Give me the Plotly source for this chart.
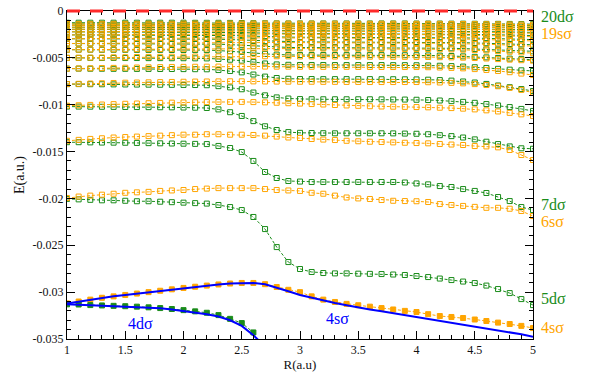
import plotly.graph_objects as go

# ---------------- data ----------------
R = [1.0, 1.1, 1.2, 1.3, 1.4, 1.5, 1.6, 1.7, 1.8, 1.9, 2.0, 2.1, 2.2, 2.3, 2.4, 2.5, 2.6, 2.7, 2.8, 2.9,
     3.0, 3.1, 3.2, 3.3, 3.4, 3.5, 3.6, 3.7, 3.8, 3.9, 4.0, 4.1, 4.2, 4.3, 4.4, 4.5, 4.6, 4.7, 4.8, 4.9, 5.0]

x_range = [1, 5]
y_range = [-0.035, 0]
x_tick_vals = [1, 1.5, 2, 2.5, 3, 3.5, 4, 4.5, 5]
x_tick_text = ["1", "1.5", "2", "2.5", "3", "3.5", "4", "4.5", "5"]
y_tick_vals = [0, -0.005, -0.01, -0.015, -0.02, -0.025, -0.03, -0.035]
y_tick_text = ["0", "-0.005", "-0.01", "-0.015", "-0.02", "-0.025", "-0.03", "-0.035"]

threshold_E = 0.0

# diabatic curves (blue)
blue_4s = [-0.03120,-0.03100,-0.03080,-0.03060,-0.03045,-0.03030,-0.03015,-0.03000,-0.02985,-0.02970,
           -0.02955,-0.02942,-0.02930,-0.02918,-0.02908,-0.02902,-0.02902,-0.02915,-0.02950,-0.02990,
           -0.03030,-0.03060,-0.03090,-0.03115,-0.03140,-0.03165,-0.03185,-0.03205,-0.03225,-0.03245,
           -0.03265,-0.03285,-0.03305,-0.03325,-0.03345,-0.03365,-0.03385,-0.03405,-0.03425,-0.03450,-0.03475]
blue_4d = [-0.03130,-0.03135,-0.03140,-0.03145,-0.03148,-0.03150,-0.03155,-0.03162,-0.03172,-0.03185,
           -0.03200,-0.03215,-0.03235,-0.03260,-0.03300,-0.03360,-0.03460,-0.03580]

# s sigma states (orange)
s_4 = [-0.03120,-0.03100,-0.03080,-0.03060,-0.03045,-0.03030,-0.03015,-0.03000,-0.02985,-0.02970,
       -0.02955,-0.02942,-0.02930,-0.02918,-0.02908,-0.02902,-0.02902,-0.02915,-0.02945,-0.02975,
       -0.03000,-0.03045,-0.03080,-0.03105,-0.03125,-0.03140,-0.03155,-0.03170,-0.03185,-0.03200,
       -0.03212,-0.03235,-0.03255,-0.03265,-0.03276,-0.03292,-0.03308,-0.03325,-0.03340,-0.03360,-0.03383]
s_6 = [-0.01996,-0.01980,-0.01970,-0.01960,-0.01950,-0.01940,-0.01935,-0.01930,-0.01920,-0.01915,
       -0.01910,-0.01900,-0.01895,-0.01890,-0.01890,-0.01890,-0.01890,-0.01900,-0.01910,-0.01915,
       -0.01920,-0.01940,-0.01950,-0.01970,-0.01990,-0.02000,-0.02006,-0.02017,-0.02025,-0.02028,
       -0.02030,-0.02038,-0.02060,-0.02070,-0.02080,-0.02090,-0.02100,-0.02100,-0.02110,-0.02134,-0.02188]
s_7 = [-0.01385,-0.01375,-0.01365,-0.01358,-0.01350,-0.01345,-0.01340,-0.01335,-0.01330,-0.01325,
       -0.01320,-0.01320,-0.01315,-0.01315,-0.01320,-0.01320,-0.01323,-0.01330,-0.01340,-0.01350,
       -0.01355,-0.01366,-0.01372,-0.01377,-0.01385,-0.01390,-0.01395,-0.01398,-0.01402,-0.01406,
       -0.01409,-0.01412,-0.01419,-0.01425,-0.01430,-0.01441,-0.01445,-0.01455,-0.01483,-0.01537,-0.01590]
s_8 = [-0.01010,-0.01006,-0.01002,-0.00998,-0.00994,-0.00990,-0.00987,-0.00984,-0.00981,-0.00978,
       -0.00976,-0.00974,-0.00972,-0.00970,-0.00970,-0.00970,-0.00972,-0.00975,-0.00979,-0.00984,
       -0.00988,-0.00993,-0.00998,-0.01003,-0.01008,-0.01012,-0.01016,-0.01019,-0.01021,-0.01023,
       -0.01025,-0.01028,-0.01032,-0.01036,-0.01042,-0.01050,-0.01060,-0.01072,-0.01087,-0.01103,-0.01120]
s_9 = [-0.00780,-0.00777,-0.00774,-0.00771,-0.00768,-0.00765,-0.00763,-0.00761,-0.00759,-0.00757,
       -0.00755,-0.00753,-0.00752,-0.00751,-0.00750,-0.00750,-0.00751,-0.00752,-0.00753,-0.00754,
       -0.00755,-0.00755,-0.00756,-0.00756,-0.00757,-0.00757,-0.00758,-0.00758,-0.00758,-0.00758,
       -0.00758,-0.00760,-0.00763,-0.00767,-0.00772,-0.00780,-0.00790,-0.00803,-0.00820,-0.00842,-0.00870]
s_10 = [-0.00615,-0.00613,-0.00611,-0.00609,-0.00607,-0.00605,-0.00603,-0.00601,-0.00599,-0.00597,
        -0.00596,-0.00595,-0.00594,-0.00593,-0.00592,-0.00592,-0.00592,-0.00593,-0.00594,-0.00594,
        -0.00595,-0.00595,-0.00596,-0.00596,-0.00596,-0.00597,-0.00597,-0.00597,-0.00598,-0.00598,
        -0.00598,-0.00600,-0.00603,-0.00607,-0.00612,-0.00620,-0.00629,-0.00640,-0.00653,-0.00668,-0.00683]
s_11 = [-0.00500,-0.00499,-0.00497,-0.00496,-0.00494,-0.00493,-0.00491,-0.00490,-0.00489,-0.00488,
        -0.00487,-0.00486,-0.00485,-0.00484,-0.00483,-0.00482,-0.00482,-0.00483,-0.00483,-0.00484,
        -0.00485,-0.00485,-0.00486,-0.00486,-0.00487,-0.00487,-0.00488,-0.00488,-0.00489,-0.00489,
        -0.00490,-0.00491,-0.00493,-0.00495,-0.00498,-0.00502,-0.00507,-0.00513,-0.00519,-0.00525,-0.00530]
s_12 = [-0.00413,-0.00412,-0.00411,-0.00410,-0.00409,-0.00408,-0.00407,-0.00406,-0.00405,-0.00404,
        -0.00403,-0.00402,-0.00401,-0.00400,-0.00399,-0.00398,-0.00398,-0.00399,-0.00399,-0.00400,
        -0.00400,-0.00401,-0.00401,-0.00402,-0.00402,-0.00403,-0.00403,-0.00404,-0.00404,-0.00405,
        -0.00405,-0.00406,-0.00408,-0.00410,-0.00413,-0.00417,-0.00422,-0.00428,-0.00435,-0.00442,-0.00450]
s_13 = [-0.00347,-0.00346,-0.00345,-0.00344,-0.00343,-0.00342,-0.00342,-0.00341,-0.00340,-0.00339,
        -0.00339,-0.00338,-0.00337,-0.00336,-0.00336,-0.00335,-0.00335,-0.00336,-0.00336,-0.00337,
        -0.00337,-0.00338,-0.00338,-0.00338,-0.00339,-0.00339,-0.00340,-0.00340,-0.00341,-0.00341,
        -0.00342,-0.00343,-0.00344,-0.00346,-0.00348,-0.00351,-0.00355,-0.00359,-0.00364,-0.00369,-0.00375]
s_14 = [-0.00296,-0.00295,-0.00294,-0.00294,-0.00293,-0.00292,-0.00291,-0.00291,-0.00290,-0.00289,
        -0.00289,-0.00288,-0.00288,-0.00287,-0.00287,-0.00286,-0.00286,-0.00286,-0.00287,-0.00287,
        -0.00288,-0.00288,-0.00288,-0.00289,-0.00289,-0.00290,-0.00290,-0.00291,-0.00291,-0.00291,
        -0.00292,-0.00293,-0.00294,-0.00296,-0.00298,-0.00300,-0.00303,-0.00307,-0.00311,-0.00315,-0.00320]
s_15 = [-0.00255,-0.00254,-0.00254,-0.00253,-0.00252,-0.00252,-0.00251,-0.00250,-0.00250,-0.00249,
        -0.00249,-0.00248,-0.00248,-0.00247,-0.00247,-0.00246,-0.00246,-0.00246,-0.00247,-0.00247,
        -0.00248,-0.00248,-0.00248,-0.00249,-0.00249,-0.00250,-0.00250,-0.00250,-0.00251,-0.00251,
        -0.00252,-0.00252,-0.00253,-0.00255,-0.00256,-0.00258,-0.00261,-0.00264,-0.00267,-0.00271,-0.00275]
s_16 = [-0.00222,-0.00221,-0.00221,-0.00220,-0.00220,-0.00219,-0.00219,-0.00218,-0.00218,-0.00217,
        -0.00217,-0.00216,-0.00216,-0.00215,-0.00215,-0.00214,-0.00214,-0.00214,-0.00215,-0.00215,
        -0.00216,-0.00216,-0.00216,-0.00217,-0.00217,-0.00218,-0.00218,-0.00218,-0.00219,-0.00219,
        -0.00220,-0.00220,-0.00221,-0.00222,-0.00223,-0.00225,-0.00227,-0.00229,-0.00232,-0.00235,-0.00238]
s_17 = [-0.00195,-0.00194,-0.00194,-0.00193,-0.00193,-0.00192,-0.00192,-0.00191,-0.00191,-0.00190,
        -0.00190,-0.00190,-0.00189,-0.00189,-0.00188,-0.00188,-0.00188,-0.00188,-0.00189,-0.00189,
        -0.00189,-0.00190,-0.00190,-0.00190,-0.00191,-0.00191,-0.00191,-0.00192,-0.00192,-0.00192,
        -0.00193,-0.00193,-0.00194,-0.00195,-0.00196,-0.00197,-0.00199,-0.00201,-0.00203,-0.00205,-0.00208]
s_18 = [-0.00173,-0.00172,-0.00172,-0.00172,-0.00171,-0.00171,-0.00170,-0.00170,-0.00170,-0.00169,
        -0.00169,-0.00169,-0.00168,-0.00168,-0.00167,-0.00167,-0.00167,-0.00167,-0.00168,-0.00168,
        -0.00168,-0.00168,-0.00169,-0.00169,-0.00169,-0.00170,-0.00170,-0.00170,-0.00170,-0.00171,
        -0.00171,-0.00171,-0.00172,-0.00173,-0.00174,-0.00175,-0.00176,-0.00178,-0.00180,-0.00182,-0.00184]
s_19 = [-0.00154,-0.00154,-0.00153,-0.00153,-0.00153,-0.00152,-0.00152,-0.00152,-0.00151,-0.00151,
        -0.00151,-0.00150,-0.00150,-0.00150,-0.00149,-0.00149,-0.00149,-0.00149,-0.00149,-0.00150,
        -0.00150,-0.00150,-0.00150,-0.00151,-0.00151,-0.00151,-0.00151,-0.00151,-0.00152,-0.00152,
        -0.00152,-0.00152,-0.00153,-0.00154,-0.00155,-0.00156,-0.00157,-0.00158,-0.00160,-0.00161,-0.00163]
s_20 = [-0.00138,-0.00138,-0.00137,-0.00137,-0.00137,-0.00137,-0.00136,-0.00136,-0.00136,-0.00136,
        -0.00135,-0.00135,-0.00135,-0.00135,-0.00134,-0.00134,-0.00134,-0.00134,-0.00134,-0.00135,
        -0.00135,-0.00135,-0.00135,-0.00135,-0.00136,-0.00136,-0.00136,-0.00136,-0.00136,-0.00136,
        -0.00137,-0.00137,-0.00137,-0.00138,-0.00139,-0.00140,-0.00141,-0.00142,-0.00143,-0.00144,-0.00146]

# d sigma states (green)
d_4 = [-0.03130,-0.03132,-0.03138,-0.03142,-0.03146,-0.03150,-0.03155,-0.03162,-0.03170,-0.03180,
       -0.03192,-0.03205,-0.03220,-0.03245,-0.03285,-0.03330,-0.03430]
d_5 = [-0.02005,-0.02010,-0.02015,-0.02020,-0.02020,-0.02025,-0.02030,-0.02030,-0.02035,-0.02040,
       -0.02045,-0.02050,-0.02055,-0.02070,-0.02092,-0.02124,-0.02198,-0.02327,-0.02519,-0.02679,
       -0.02753,-0.02785,-0.02796,-0.02800,-0.02800,-0.02803,-0.02805,-0.02807,-0.02812,-0.02817,
       -0.02828,-0.02839,-0.02855,-0.02871,-0.02887,-0.02903,-0.02930,-0.02967,-0.03010,-0.03074,-0.03138]
d_7 = [-0.01400,-0.01400,-0.01402,-0.01404,-0.01405,-0.01406,-0.01408,-0.01410,-0.01412,-0.01414,
       -0.01416,-0.01418,-0.01420,-0.01440,-0.01462,-0.01505,-0.01600,-0.01718,-0.01782,-0.01814,
       -0.01820,-0.01825,-0.01825,-0.01825,-0.01825,-0.01825,-0.01825,-0.01825,-0.01825,-0.01830,
       -0.01840,-0.01850,-0.01868,-0.01878,-0.01900,-0.01920,-0.01942,-0.01985,-0.02028,-0.02092,-0.02124]
d_8 = [-0.01020,-0.01020,-0.01021,-0.01022,-0.01023,-0.01024,-0.01025,-0.01026,-0.01027,-0.01028,
       -0.01030,-0.01032,-0.01035,-0.01050,-0.01080,-0.01120,-0.01175,-0.01230,-0.01270,-0.01292,
       -0.01300,-0.01302,-0.01304,-0.01305,-0.01305,-0.01305,-0.01305,-0.01305,-0.01306,-0.01308,
       -0.01310,-0.01315,-0.01325,-0.01335,-0.01350,-0.01370,-0.01395,-0.01420,-0.01445,-0.01465,-0.01470]
d_9 = [-0.00780,-0.00780,-0.00781,-0.00782,-0.00783,-0.00784,-0.00785,-0.00786,-0.00787,-0.00788,
       -0.00789,-0.00790,-0.00792,-0.00802,-0.00815,-0.00835,-0.00870,-0.00900,-0.00922,-0.00934,
       -0.00940,-0.00941,-0.00942,-0.00942,-0.00942,-0.00942,-0.00942,-0.00943,-0.00944,-0.00945,
       -0.00947,-0.00950,-0.00955,-0.00962,-0.00970,-0.00980,-0.00993,-0.01008,-0.01025,-0.01045,-0.01067]
d_10 = [-0.00615,-0.00615,-0.00616,-0.00616,-0.00617,-0.00617,-0.00618,-0.00618,-0.00619,-0.00619,
        -0.00620,-0.00621,-0.00622,-0.00630,-0.00640,-0.00655,-0.00678,-0.00700,-0.00715,-0.00723,
        -0.00726,-0.00726,-0.00727,-0.00727,-0.00727,-0.00727,-0.00727,-0.00728,-0.00728,-0.00729,
        -0.00730,-0.00733,-0.00737,-0.00743,-0.00752,-0.00763,-0.00778,-0.00795,-0.00813,-0.00833,-0.00854]
d_11 = [-0.00500,-0.00500,-0.00500,-0.00501,-0.00501,-0.00502,-0.00502,-0.00503,-0.00503,-0.00504,
        -0.00504,-0.00505,-0.00506,-0.00512,-0.00520,-0.00530,-0.00545,-0.00560,-0.00570,-0.00574,
        -0.00576,-0.00576,-0.00576,-0.00577,-0.00577,-0.00577,-0.00577,-0.00577,-0.00578,-0.00578,
        -0.00579,-0.00581,-0.00584,-0.00588,-0.00593,-0.00600,-0.00608,-0.00617,-0.00626,-0.00633,-0.00640]
d_12 = [-0.00413,-0.00413,-0.00413,-0.00414,-0.00414,-0.00414,-0.00415,-0.00415,-0.00415,-0.00416,
        -0.00416,-0.00417,-0.00417,-0.00422,-0.00428,-0.00436,-0.00447,-0.00458,-0.00465,-0.00469,
        -0.00470,-0.00470,-0.00470,-0.00470,-0.00471,-0.00471,-0.00471,-0.00471,-0.00471,-0.00472,
        -0.00472,-0.00474,-0.00476,-0.00480,-0.00484,-0.00489,-0.00495,-0.00501,-0.00508,-0.00514,-0.00520]
d_13 = [-0.00347,-0.00347,-0.00347,-0.00347,-0.00348,-0.00348,-0.00348,-0.00348,-0.00349,-0.00349,
        -0.00349,-0.00350,-0.00350,-0.00354,-0.00359,-0.00365,-0.00373,-0.00381,-0.00386,-0.00389,
        -0.00390,-0.00390,-0.00390,-0.00390,-0.00390,-0.00391,-0.00391,-0.00391,-0.00391,-0.00391,
        -0.00392,-0.00393,-0.00395,-0.00398,-0.00401,-0.00405,-0.00410,-0.00415,-0.00420,-0.00425,-0.00430]
d_14 = [-0.00296,-0.00296,-0.00296,-0.00296,-0.00296,-0.00297,-0.00297,-0.00297,-0.00297,-0.00297,
        -0.00298,-0.00298,-0.00298,-0.00301,-0.00305,-0.00310,-0.00316,-0.00322,-0.00327,-0.00329,
        -0.00330,-0.00330,-0.00330,-0.00330,-0.00330,-0.00330,-0.00330,-0.00331,-0.00331,-0.00331,
        -0.00331,-0.00332,-0.00334,-0.00336,-0.00338,-0.00341,-0.00344,-0.00348,-0.00352,-0.00356,-0.00360]
d_15 = [-0.00255,-0.00255,-0.00255,-0.00255,-0.00255,-0.00256,-0.00256,-0.00256,-0.00256,-0.00256,
        -0.00256,-0.00257,-0.00257,-0.00259,-0.00262,-0.00265,-0.00270,-0.00274,-0.00277,-0.00279,
        -0.00280,-0.00280,-0.00280,-0.00280,-0.00280,-0.00280,-0.00280,-0.00280,-0.00281,-0.00281,
        -0.00281,-0.00282,-0.00283,-0.00285,-0.00287,-0.00289,-0.00292,-0.00295,-0.00298,-0.00301,-0.00305]
d_16 = [-0.00222,-0.00222,-0.00222,-0.00222,-0.00222,-0.00222,-0.00222,-0.00223,-0.00223,-0.00223,
        -0.00223,-0.00223,-0.00224,-0.00225,-0.00227,-0.00230,-0.00234,-0.00237,-0.00240,-0.00241,
        -0.00242,-0.00242,-0.00242,-0.00242,-0.00242,-0.00242,-0.00242,-0.00242,-0.00242,-0.00243,
        -0.00243,-0.00244,-0.00245,-0.00246,-0.00248,-0.00250,-0.00252,-0.00255,-0.00257,-0.00260,-0.00262]
d_17 = [-0.00195,-0.00195,-0.00195,-0.00195,-0.00195,-0.00195,-0.00195,-0.00195,-0.00196,-0.00196,
        -0.00196,-0.00196,-0.00196,-0.00197,-0.00199,-0.00202,-0.00205,-0.00208,-0.00210,-0.00211,
        -0.00212,-0.00212,-0.00212,-0.00212,-0.00212,-0.00212,-0.00212,-0.00212,-0.00212,-0.00212,
        -0.00213,-0.00213,-0.00214,-0.00215,-0.00216,-0.00218,-0.00220,-0.00222,-0.00224,-0.00226,-0.00228]
d_18 = [-0.00173,-0.00173,-0.00173,-0.00173,-0.00173,-0.00173,-0.00173,-0.00173,-0.00173,-0.00174,
        -0.00174,-0.00174,-0.00174,-0.00175,-0.00177,-0.00179,-0.00182,-0.00184,-0.00186,-0.00187,
        -0.00187,-0.00187,-0.00187,-0.00187,-0.00187,-0.00187,-0.00187,-0.00187,-0.00187,-0.00187,
        -0.00188,-0.00188,-0.00189,-0.00190,-0.00191,-0.00192,-0.00194,-0.00195,-0.00197,-0.00198,-0.00200]
d_19 = [-0.00154,-0.00154,-0.00154,-0.00154,-0.00154,-0.00154,-0.00154,-0.00154,-0.00154,-0.00155,
        -0.00155,-0.00155,-0.00155,-0.00156,-0.00157,-0.00159,-0.00161,-0.00163,-0.00165,-0.00166,
        -0.00166,-0.00166,-0.00166,-0.00166,-0.00166,-0.00166,-0.00166,-0.00166,-0.00166,-0.00166,
        -0.00167,-0.00167,-0.00168,-0.00168,-0.00169,-0.00170,-0.00171,-0.00172,-0.00173,-0.00175,-0.00176]
d_20 = [-0.00138,-0.00138,-0.00138,-0.00138,-0.00138,-0.00138,-0.00138,-0.00138,-0.00138,-0.00138,
        -0.00139,-0.00139,-0.00139,-0.00140,-0.00141,-0.00142,-0.00144,-0.00146,-0.00147,-0.00148,
        -0.00148,-0.00148,-0.00148,-0.00148,-0.00148,-0.00148,-0.00148,-0.00148,-0.00148,-0.00148,
        -0.00149,-0.00149,-0.00149,-0.00150,-0.00151,-0.00151,-0.00152,-0.00153,-0.00154,-0.00155,-0.00156]
d_21 = [-0.00125,-0.00125,-0.00125,-0.00125,-0.00125,-0.00125,-0.00125,-0.00125,-0.00125,-0.00125,
        -0.00125,-0.00126,-0.00126,-0.00126,-0.00127,-0.00128,-0.00130,-0.00131,-0.00132,-0.00133,
        -0.00133,-0.00133,-0.00133,-0.00133,-0.00133,-0.00133,-0.00133,-0.00133,-0.00133,-0.00133,
        -0.00134,-0.00134,-0.00134,-0.00135,-0.00135,-0.00136,-0.00137,-0.00137,-0.00138,-0.00139,-0.00140]

# right-hand / in-plot state labels: (text, colour key, E position)
label_text = ["20dσ", "19sσ", "7dσ", "6sσ", "5dσ", "4sσ"]
label_kind = ["d", "s", "d", "s", "d", "s"]
label_E = [-0.00060, -0.00240, -0.0206, -0.0225, -0.0307, -0.0338]
inner_text = ["4dσ", "4sσ"]
inner_R = [1.63, 3.32]
inner_E = [-0.03335, -0.03286]

# ---------------- figure ----------------
GREEN = "#1a8c1a"
ORANGE = "#ffa500"
BLUE = "#0000ff"
DASH = "3px,2px"
SERIF = "Liberation Serif, Times New Roman, Times, DejaVu Serif, serif"

s_series = [s_6, s_7, s_8, s_9, s_10, s_11, s_12, s_13, s_14, s_15, s_16, s_17, s_18, s_19, s_20]
d_series = [d_5, d_7, d_8, d_9, d_10, d_11, d_12, d_13, d_14, d_15, d_16, d_17, d_18, d_19, d_20, d_21]
for v in s_series + d_series + [s_4, blue_4s]:
    assert len(v) == len(R), len(v)

fig = go.Figure()


def add_state(vals, color, filled):
    fig.add_trace(go.Scatter(
        x=R[:len(vals)], y=vals, mode="lines+markers",
        line=dict(color=color, width=1, dash=DASH),
        marker=dict(symbol="square" if filled else "square-open", size=5,
                    color=color, line=dict(color=color, width=1)),
        hoverinfo="skip"))


# interleave green and orange from the top down
for k in range(len(d_series) - 1, -1, -1):
    add_state(d_series[k], GREEN, False)
    if k < len(s_series):
        add_state(s_series[k], ORANGE, False)

add_state(s_4, ORANGE, True)
add_state(d_4, GREEN, True)

fig.add_trace(go.Scatter(x=R, y=blue_4s, mode="lines",
                         line=dict(color=BLUE, width=2), hoverinfo="skip"))
fig.add_trace(go.Scatter(x=R[:len(blue_4d)], y=blue_4d, mode="lines",
                         line=dict(color=BLUE, width=2), hoverinfo="skip"))

# dissociation threshold E = 0 (lies on the top frame), drawn over the frame
thr_y = (threshold_E - y_range[0]) / (y_range[1] - y_range[0])
thr_x0 = (R[0] - x_range[0]) / (x_range[1] - x_range[0])
thr_x1 = (R[-1] - x_range[0]) / (x_range[1] - x_range[0])
fig.add_shape(type="line", xref="paper", yref="paper", x0=thr_x0, x1=thr_x1,
              y0=thr_y, y1=thr_y, layer="above",
              line=dict(color="#ff2a2a", width=3, dash="13px,10px"))

for t, k, e in zip(label_text, label_kind, label_E):
    fig.add_annotation(text=t, xref="paper", x=1.012, xanchor="left",
                       yref="y", y=e, yanchor="middle", showarrow=False,
                       font=dict(family=SERIF, size=16,
                                 color=GREEN if k == "d" else ORANGE))
for t, x, e in zip(inner_text, inner_R, inner_E):
    fig.add_annotation(text=t, xref="x", x=x, yref="y", y=e, showarrow=False,
                       font=dict(family=SERIF, size=16, color=BLUE))

axis_common = dict(showline=True, linecolor="black", linewidth=1, mirror="allticks",
                   ticks="inside", tickcolor="black", ticklen=8, tickwidth=1,
                   showgrid=False, zeroline=False, automargin=False,
                   tickfont=dict(family=SERIF, size=12, color="#111"))

fig.update_xaxes(range=x_range, tickmode="array", tickvals=x_tick_vals, ticktext=x_tick_text,
                 minor=dict(ticks="inside", tickmode="linear", tick0=1, dtick=0.1,
                            ticklen=4, tickcolor="black", showgrid=False),
                 title=dict(text="R(a.u)", standoff=2,
                            font=dict(family=SERIF, size=13, color="#111")),
                 **axis_common)
fig.update_yaxes(range=y_range, tickmode="array", tickvals=y_tick_vals, ticktext=y_tick_text,
                 minor=dict(ticks="inside", tickmode="linear", tick0=0, dtick=0.001,
                            ticklen=4, tickcolor="black", showgrid=False),
                 title=dict(text="E(a.u.)", standoff=4,
                            font=dict(family=SERIF, size=14, color="#111")),
                 **axis_common)

fig.update_layout(width=594, height=372, margin=dict(l=67, r=61, t=11, b=33),
                  paper_bgcolor="white", plot_bgcolor="white", showlegend=False,
                  font=dict(family=SERIF))

fig.write_html("out.html")
